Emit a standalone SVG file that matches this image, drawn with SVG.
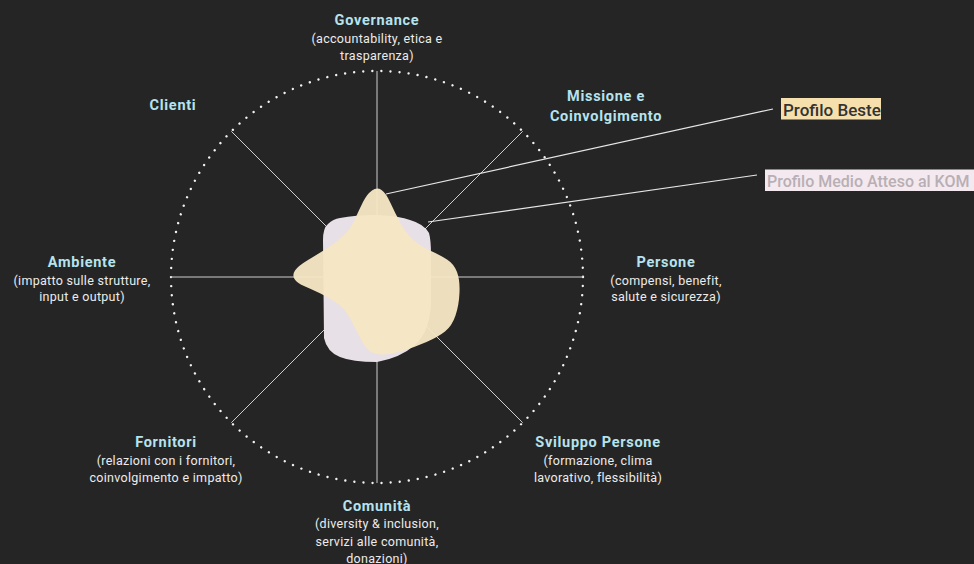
<svg xmlns="http://www.w3.org/2000/svg" width="974" height="564" viewBox="0 0 974 564">
<style>
.bg{fill:#262525}
.spoke{stroke:#cfcfcf;stroke-width:1;fill:none}
.ring{stroke:#f2f2f2;stroke-width:2.4;stroke-linecap:round;stroke-dasharray:0.01 9.1;fill:none}
.lead{stroke:#e6e6e6;stroke-width:1.2;fill:none}
.t{font-family:Roboto,"Liberation Sans",sans-serif;font-size:14.5px;font-weight:700;fill:#b5e3ee;text-anchor:middle;letter-spacing:0.7px}
.s{font-family:Roboto,"Liberation Sans",sans-serif;font-size:12.5px;fill:#ececec;text-anchor:middle;letter-spacing:0.3px}
.lg{font-family:Roboto,"Liberation Sans",sans-serif;font-size:17px;font-weight:500}
</style>
<rect class="bg" x="0" y="0" width="974" height="564"/>
<g id="grid">
<circle class="ring" cx="377" cy="277" r="206"/>
<line class="spoke" x1="377" y1="71" x2="377" y2="483"/>
<line class="spoke" x1="171" y1="277" x2="583" y2="277"/>
<line class="spoke" x1="231.3" y1="131.3" x2="522.7" y2="422.7"/>
<line class="spoke" x1="522.7" y1="131.3" x2="231.3" y2="422.7"/>
</g>
<g id="series">
<path id="medio" fill="#e7e0e6" d="M340,218 Q355,215 377,215 Q400,216 410,220 Q424,224 429,233 Q431,240 431,255 L431,300 Q431,330 415,345 Q400,358 377,362 Q352,362 340,357 Q327,352 324,338 L323,240 Q323,228 328,224 Q333,219 340,218 Z"/>
<path id="beste" fill="#f6e6c5" fill-opacity="0.96" d="M372,190.5 Q377,187 381.5,190 Q386,193 390.5,203 Q395,213 400.5,223 Q406,233 413,239.5 Q420,246 430,250.5 Q440,255 447,259.5 Q454,264 457,272 Q460,280 459.5,292.5 Q459,305 455.5,315.5 Q452,326 445,331.5 Q438,337 426.5,342 Q415,347 403.5,350.5 Q392,354 384,354.5 Q376,355 371,352 Q366,349 361.5,340.5 Q357,332 351.5,321 Q346,310 338,304 Q330,298 320.5,293.5 Q311,289 304,286 Q297,283 294.5,279 Q292,275 295,270.5 Q298,266 308,260 Q318,254 327.5,248 Q337,242 344,235 Q351,228 355,219 Q359,210 363,202 Q367,194 372,190.5 Z"/>
</g>
<g id="connectors">
<line class="lead" x1="386" y1="194" x2="773" y2="109"/>
<line class="lead" x1="428" y1="222" x2="757" y2="175"/>
</g>
<g id="legend-beste">
<rect x="781" y="98" width="100" height="21.5" fill="#f5dfad"/>
<text class="lg" x="783" y="115.5" fill="#333333">Profilo Beste</text>
</g>
<g id="legend-medio">
<rect x="765" y="169.5" width="215" height="21.5" fill="#f4e9ee"/>
<text class="lg" x="767" y="186.5" fill="#b8afb5" style="font-size:16px">Profilo Medio Atteso al KOM</text>
</g>
<g id="label-governance">
<text class="t" x="377" y="25">Governance</text>
<text class="s" x="377" y="42.5">(accountability, etica e</text>
<text class="s" x="377" y="59.5">trasparenza)</text>
</g>
<g id="label-missione">
<text class="t" x="606" y="101">Missione e</text>
<text class="t" x="606" y="120.5">Coinvolgimento</text>
</g>
<g id="label-persone">
<text class="t" x="666" y="266.5">Persone</text>
<text class="s" x="666" y="284.5">(compensi, benefit,</text>
<text class="s" x="666" y="300.5">salute e sicurezza)</text>
</g>
<g id="label-sviluppo">
<text class="t" x="598" y="447">Sviluppo Persone</text>
<text class="s" x="598" y="464.5">(formazione, clima</text>
<text class="s" x="598" y="482">lavorativo, flessibilità)</text>
</g>
<g id="label-comunita">
<text class="t" x="377" y="510.5">Comunità</text>
<text class="s" x="377" y="528">(diversity &amp; inclusion,</text>
<text class="s" x="377" y="546">servizi alle comunità,</text>
<text class="s" x="377" y="562.5">donazioni)</text>
</g>
<g id="label-fornitori">
<text class="t" x="166" y="447">Fornitori</text>
<text class="s" x="166" y="464.5">(relazioni con i fornitori,</text>
<text class="s" x="166" y="482">coinvolgimento e impatto)</text>
</g>
<g id="label-ambiente">
<text class="t" x="82" y="266.5">Ambiente</text>
<text class="s" x="82" y="284.5">(impatto sulle strutture,</text>
<text class="s" x="82" y="300.5">input e output)</text>
</g>
<g id="label-clienti">
<text class="t" x="173" y="110">Clienti</text>
</g>
</svg>
